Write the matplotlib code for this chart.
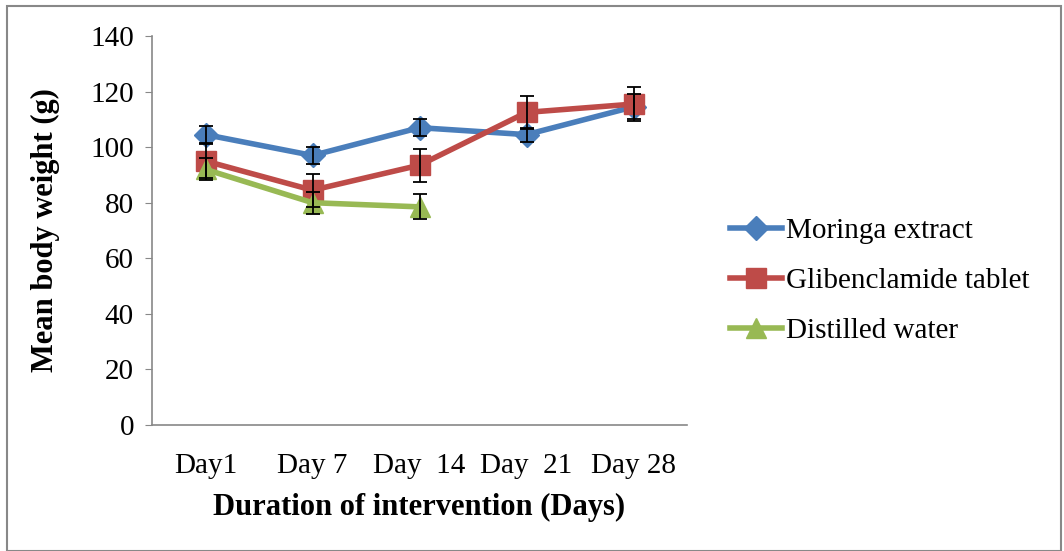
import matplotlib
matplotlib.use("Agg")
import matplotlib.pyplot as plt
from matplotlib.patches import Rectangle

plt.rcParams["font.family"] = ["Liberation Serif", "DejaVu Serif"]

# data
days = ["Day1", "Day 7", "Day  14", "Day  21", "Day 28"]
moringa = [104.5, 97, 107, 104.5, 114.5]
moringa_err = [3, 3, 3, 2.5, 4.5]
gliben = [95, 84.5, 93.5, 112.5, 115.5]
gliben_err = [6, 6, 6, 6, 6]
water = [92, 80, 78.5]
water_err = [4, 4, 4.5]

series = [
    ("Moringa extract", moringa, moringa_err, "#4A7EBB", "D", 12),
    ("Glibenclamide tablet", gliben, gliben_err, "#BE4B48", "s", 14),
    ("Distilled water", water, water_err, "#98B954", "^", 14),
]

fig = plt.figure(figsize=(10.64, 5.51), dpi=100)
ax = fig.add_axes([0.1429, 0.2287, 0.5028, 0.706])

for name, vals, errs, color, marker, ms in series:
    x = list(range(len(vals)))
    ax.errorbar(x, vals, yerr=errs, fmt="none", ecolor="black",
                elinewidth=1.3, capsize=5, capthick=1.3, zorder=3)
    ax.plot(x, vals, color=color, lw=4, marker=marker, ms=ms,
            label=name, zorder=2)

ax.set_xlim(-0.5, 4.5)
ax.set_ylim(0, 140)
ax.set_yticks(range(0, 141, 20))
ax.set_xticks(range(len(days)))
ax.set_xticklabels(days)
ax.tick_params(axis="both", labelsize=21, colors="black")
ax.tick_params(axis="y", length=5, color="#888888", pad=8)
ax.tick_params(axis="x", length=0, pad=20)

for side in ["top", "right"]:
    ax.spines[side].set_visible(False)
for side in ["left", "bottom"]:
    ax.spines[side].set_color("#888888")
    ax.spines[side].set_linewidth(1.2)

ax.set_xlabel("Duration of intervention (Days)", fontsize=22,
              fontweight="bold", labelpad=10)
ax.set_ylabel("Mean body weight (g)", fontsize=22, fontweight="bold",
              labelpad=22)

fig.legend(loc="center left", bbox_to_anchor=(0.661, 0.49),
           frameon=False, fontsize=21, handlelength=1.8,
           labelspacing=0.8, handletextpad=0.15)

# outer frame of the chart area
fig.patches.append(Rectangle((0.007, 0.0), 0.99, 0.99, transform=fig.transFigure,
                             fill=False, edgecolor="#888888", lw=1.5))

fig.savefig("out.png", dpi=100)
